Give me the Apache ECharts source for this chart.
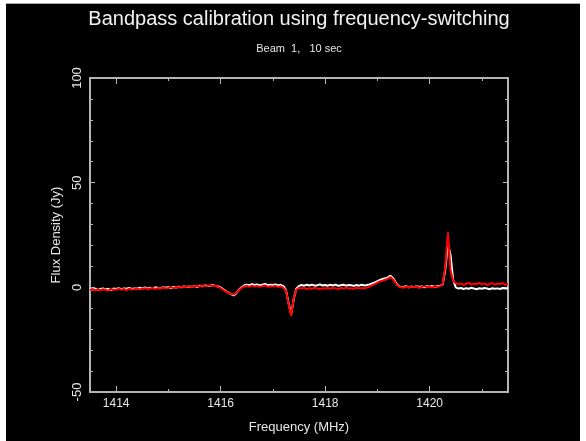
<!DOCTYPE html>
<html>
<head>
<meta charset="utf-8">
<script src="https://cdn.jsdelivr.net/npm/echarts@6/dist/echarts.min.js"></script>
<style>
	html, body { margin: 0; padding: 0; background: #ffffff; }
	#frame { position: absolute; left: 6px; top: 3px; width: 574px; height: 438px; background: #000000; border-top: 1px solid #a8a8a8; box-sizing: border-box; }
	#chart { width: 574px; height: 437px; }
</style>
</head>
<body>
<div id="frame"><div id="chart"></div></div>
<script>
// channel frequencies (MHz), 0.05 MHz apart
var freq = [
	1413.50, 1413.55, 1413.60, 1413.65, 1413.70, 1413.75, 1413.80, 1413.85, 1413.90, 1413.95,
	1414.00, 1414.05, 1414.10, 1414.15, 1414.20, 1414.25, 1414.30, 1414.35, 1414.40, 1414.45,
	1414.50, 1414.55, 1414.60, 1414.65, 1414.70, 1414.75, 1414.80, 1414.85, 1414.90, 1414.95,
	1415.00, 1415.05, 1415.10, 1415.15, 1415.20, 1415.25, 1415.30, 1415.35, 1415.40, 1415.45,
	1415.50, 1415.55, 1415.60, 1415.65, 1415.70, 1415.75, 1415.80, 1415.85, 1415.90, 1415.95,
	1416.00, 1416.05, 1416.10, 1416.15, 1416.20, 1416.25, 1416.30, 1416.35, 1416.40, 1416.45,
	1416.50, 1416.55, 1416.60, 1416.65, 1416.70, 1416.75, 1416.80, 1416.85, 1416.90, 1416.95,
	1417.00, 1417.05, 1417.10, 1417.15, 1417.20, 1417.25, 1417.30, 1417.35, 1417.40, 1417.45,
	1417.50, 1417.55, 1417.60, 1417.65, 1417.70, 1417.75, 1417.80, 1417.85, 1417.90, 1417.95,
	1418.00, 1418.05, 1418.10, 1418.15, 1418.20, 1418.25, 1418.30, 1418.35, 1418.40, 1418.45,
	1418.50, 1418.55, 1418.60, 1418.65, 1418.70, 1418.75, 1418.80, 1418.85, 1418.90, 1418.95,
	1419.00, 1419.05, 1419.10, 1419.15, 1419.20, 1419.25, 1419.30, 1419.35, 1419.40, 1419.45,
	1419.50, 1419.55, 1419.60, 1419.65, 1419.70, 1419.75, 1419.80, 1419.85, 1419.90, 1419.95,
	1420.00, 1420.05, 1420.10, 1420.15, 1420.20, 1420.25, 1420.30, 1420.35, 1420.40, 1420.45,
	1420.50, 1420.55, 1420.60, 1420.65, 1420.70, 1420.75, 1420.80, 1420.85, 1420.90, 1420.95,
	1421.00, 1421.05, 1421.10, 1421.15, 1421.20, 1421.25, 1421.30, 1421.35, 1421.40, 1421.45,
	1421.50
];

// white trace (Jy)
var fluxWhite = [
	-0.7, -1.1, -0.6, -1.2, -0.8, -0.5, -1.0, -0.7, -1.3, -0.6,
	-0.8, -0.4, -0.9, -0.5, -0.7, -0.3, -0.8, -0.5, -0.6, -0.2,
	-0.5, -0.1, -0.6, -0.2, -0.4, 0.0, -0.3, -0.5, 0.1, -0.2,
	0.0, -0.3, 0.2, -0.1, 0.3, 0.0, 0.4, 0.1, 0.5, 0.2,
	0.6, 0.3, 0.8, 0.5, 0.9, 0.6, 0.8, 1.0, 0.7, 0.4,
	0.0, -0.9, -1.8, -2.5, -3.2, -3.9, -2.8, -1.2, 0.0, 0.9,
	1.3, 1.0, 1.5, 1.1, 1.4, 0.9, 1.3, 1.6, 1.0, 1.2,
	1.1, 1.4, 0.9, 1.2, 0.6, -1.2, -7.5, -13.0, -5.5, -0.6,
	0.7, 1.1, 0.8, 1.2, 0.9, 1.3, 0.8, 1.0, 1.4, 0.9,
	1.1, 0.8, 1.2, 0.9, 1.3, 0.7, 1.0, 1.2, 0.8, 1.1,
	1.0, 0.7, 1.1, 0.8, 1.2, 0.9, 1.1, 1.4, 1.9, 2.4,
	2.9, 3.5, 4.0, 4.3, 4.7, 5.6, 4.4, 2.4, 0.8, 0.1,
	0.2, 0.5, 0.0, 0.4, 0.1, 0.6, 0.2, 0.4, 0.0, 0.5,
	0.3, 0.6, 0.2, 0.5, 0.8, 1.3, 8.5, 21.0, 15.5, 3.5,
	0.0, -0.6, -0.3, -0.8, -0.4, -0.7, -0.2, -0.6, -0.9, -0.4,
	-0.7, -0.3, -0.6, -0.9, -0.4, -0.7, -0.5, -0.8, -0.3, -0.6,
	-0.5
];

// red trace (Jy)
var fluxRed = [
	-1.3, -0.8, -1.5, -1.0, -1.4, -0.9, -1.2, -1.6, -0.9, -1.1,
	-1.2, -0.7, -1.1, -0.8, -1.3, -0.6, -1.0, -0.9, -0.5, -1.0,
	-0.7, -0.4, -0.9, -0.5, -0.3, -0.8, -0.4, -0.6, -0.1, -0.5,
	-0.3, 0.1, -0.4, 0.2, -0.1, 0.4, 0.0, 0.3, 0.6, 0.1,
	0.5, 0.8, 0.3, 0.9, 0.5, 0.7, 1.0, 0.6, 0.8, 0.2,
	-0.3, -1.2, -2.0, -2.6, -3.1, -3.5, -2.6, -1.4, -0.3, 0.4,
	0.6, 0.3, 0.8, 0.4, 0.7, 0.2, 0.6, 0.9, 0.3, 0.5,
	0.4, 0.7, 0.2, 0.5, -0.3, -1.5, -8.0, -13.6, -5.0, -1.2,
	-0.2, -0.6, -0.3, -0.8, -0.4, -0.7, -0.2, -0.5, -0.9, -0.4,
	-0.6, -0.3, -0.7, -0.2, -0.5, -0.8, -0.3, -0.6, -0.1, -0.5,
	-0.4, -0.7, -0.2, -0.5, -0.3, -0.6, -0.1, 0.3, 0.9, 1.5,
	2.2, 2.8, 3.2, 3.6, 4.1, 4.9, 3.8, 2.0, 0.6, 0.0,
	-0.2, 0.3, -0.1, 0.4, 0.0, 0.5, -0.3, 0.2, 0.6, 0.1,
	0.3, -0.1, 0.4, 0.2, 0.6, 1.5, 10.0, 26.3, 8.0, 3.0,
	2.0, 1.4, 1.9, 1.2, 1.7, 2.1, 1.3, 1.8, 1.5, 2.2,
	1.4, 1.9, 1.1, 1.7, 2.0, 1.3, 1.8, 1.5, 2.1, 1.2,
	1.6
];

var majorFreqTicks = [1414, 1416, 1418, 1420];
var minorFreqTicks = [1415, 1417, 1419, 1421];

var axisGray = '#b4b4b4';
var textColor = '#e6e6e6';
var fontName = 'Liberation Sans';

function pairs(xs, ys) {
	var out = [];
	for (var i = 0; i < xs.length; i++) {
		out.push([xs[i], ys[i]]);
	}
	return out;
}

function plainNumber(v) {
	return String(v);
}

function freqAxis(pos, ticks, len, withLabels) {
	return {
		type: 'value',
		position: pos,
		min: 1413.5,
		max: 1421.5,
		axisLine: { show: true, onZero: false, lineStyle: { color: axisGray, width: 2 } },
		axisTick: { show: true, inside: true, length: len, customValues: ticks, lineStyle: { color: axisGray, width: 1 } },
		axisLabel: {
			show: withLabels,
			customValues: majorFreqTicks,
			formatter: plainNumber,
			color: textColor,
			fontFamily: fontName,
			fontSize: 12,
			margin: 6
		},
		splitLine: { show: false },
		name: withLabels ? 'Frequency (MHz)' : '',
		nameLocation: 'middle',
		nameGap: 29,
		nameTextStyle: { color: textColor, fontFamily: fontName, fontSize: 13 }
	};
}

function fluxAxis(pos, withLabels) {
	return {
		type: 'value',
		position: pos,
		min: -50,
		max: 100,
		interval: 50,
		axisLine: { show: true, onZero: false, lineStyle: { color: axisGray, width: 2 } },
		axisTick: { show: true, inside: true, length: 5, lineStyle: { color: axisGray, width: 1 } },
		minorTick: { show: true, splitNumber: 5, length: 3, lineStyle: { color: axisGray, width: 1 } },
		axisLabel: {
			show: withLabels,
			rotate: 90,
			formatter: plainNumber,
			color: textColor,
			fontFamily: fontName,
			fontSize: 13,
			margin: 6
		},
		splitLine: { show: false },
		minorSplitLine: { show: false },
		name: withLabels ? 'Flux Density (Jy)' : '',
		nameLocation: 'middle',
		nameGap: 26,
		nameTextStyle: { color: textColor, fontFamily: fontName, fontSize: 13 }
	};
}

var chart = echarts.init(document.getElementById('chart'), null, { renderer: 'canvas' });

var option = {
	backgroundColor: '#000000',
	animation: false,
	title: [{
		text: 'Bandpass calibration using frequency-switching',
		left: 293,
		top: 5,
		padding: 0,
		textAlign: 'center',
		textStyle: { color: '#f2f2f2', fontFamily: fontName, fontSize: 20, fontWeight: 'normal' }
	}, {
		text: 'Beam  1,   10 sec',
		left: 293,
		top: 39,
		padding: 0,
		textAlign: 'center',
		textStyle: { color: textColor, fontFamily: fontName, fontSize: 11, fontWeight: 'normal' }
	}],
	grid: { left: 84, right: 72, top: 74, bottom: 49, containLabel: false },
	xAxis: [
		freqAxis('bottom', majorFreqTicks, 6, true),
		freqAxis('bottom', minorFreqTicks, 3, false),
		freqAxis('top', majorFreqTicks, 6, false),
		freqAxis('top', minorFreqTicks, 3, false)
	],
	yAxis: [
		fluxAxis('left', true),
		fluxAxis('right', false)
	],
	series: [{
		name: 'white',
		type: 'line',
		xAxisIndex: 0,
		yAxisIndex: 0,
		data: pairs(freq, fluxWhite),
		showSymbol: false,
		lineStyle: { color: '#ffffff', width: 2 },
		z: 2
	}, {
		name: 'red',
		type: 'line',
		xAxisIndex: 0,
		yAxisIndex: 0,
		data: pairs(freq, fluxRed),
		showSymbol: false,
		lineStyle: { color: '#ff0000', width: 2 },
		z: 3
	}]
};

chart.setOption(option);
</script>
</body>
</html>
